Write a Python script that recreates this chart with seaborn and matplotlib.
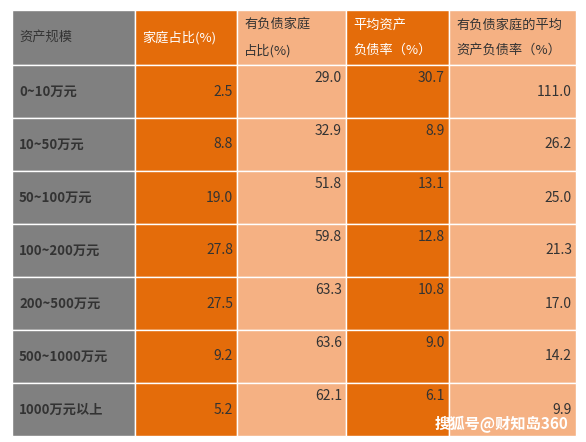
import matplotlib
matplotlib.use("Agg")
import matplotlib.pyplot as plt
import seaborn as sns
from matplotlib.patches import Rectangle

sns.set_theme(style="white")
plt.rcParams['font.family'] = ['Noto Sans CJK SC', 'DejaVu Sans']

categories = ["0~10万元", "10~50万元", "50~100万元", "100~200万元", "200~500万元", "500~1000万元", "1000万元以上"]
household_share = [2.5, 8.8, 19.0, 27.8, 27.5, 9.2, 5.2]
debt_household_share = [29.0, 32.9, 51.8, 59.8, 63.3, 63.6, 62.1]
avg_debt_ratio = [30.7, 8.9, 13.1, 12.8, 10.8, 9.0, 6.1]
debt_household_ratio = [111.0, 26.2, 25.0, 21.3, 17.0, 14.2, 9.9]
headers = ["资产规模", "家庭占比(%)", "有负债家庭\n占比(%)", "平均资产\n负债率（%）", "有负债家庭的平均\n资产负债率（%）"]

col_edges = [12, 135, 237, 346, 449, 576]
top, header_h, row_h = 10, 55, 53
col_colors = ["#808080", "#E46C0A", "#F5B183", "#E46C0A", "#F5B183"]
header_text = ["#333333", "white", "#333333", "white", "#333333"]
valign = [None, "mid", "top", "top", "mid"]
cols = [None, household_share, debt_household_share, avg_debt_ratio, debt_household_ratio]

fig = plt.figure(figsize=(5.86, 4.42), dpi=100)
ax = fig.add_axes([0, 0, 1, 1])
ax.set_xlim(0, 586); ax.set_ylim(442, 0); ax.axis("off")

n = len(categories)
heights = [header_h] + [row_h] * n
y = top
for r, h in enumerate(heights):
    for c in range(5):
        x0, x1 = col_edges[c], col_edges[c + 1]
        ax.add_patch(Rectangle((x0, y), x1 - x0, h, facecolor=col_colors[c], edgecolor="white", lw=1))
        if r == 0:
            ax.text(x0 + 7, y + h / 2, headers[c], ha="left", va="center", color=header_text[c],
                    fontsize=9.5, linespacing=2.2)
        elif c == 0:
            ax.text(x0 + 7, y + h / 2, categories[r - 1], ha="left", va="center", color="#333333",
                    fontsize=9.5, fontweight="bold")
        else:
            ty = y + h / 2 if valign[c] == "mid" else y + 13
            ax.text(x1 - 4, ty, f"{cols[c][r - 1]:.1f}", ha="right", va="center", color="#333333", fontsize=10)
    y += h

ax.text(568, 424, "搜狐号@财知岛360", ha="right", va="center", color="white", fontsize=11, fontweight="bold")
fig.savefig("out.png", dpi=100)
